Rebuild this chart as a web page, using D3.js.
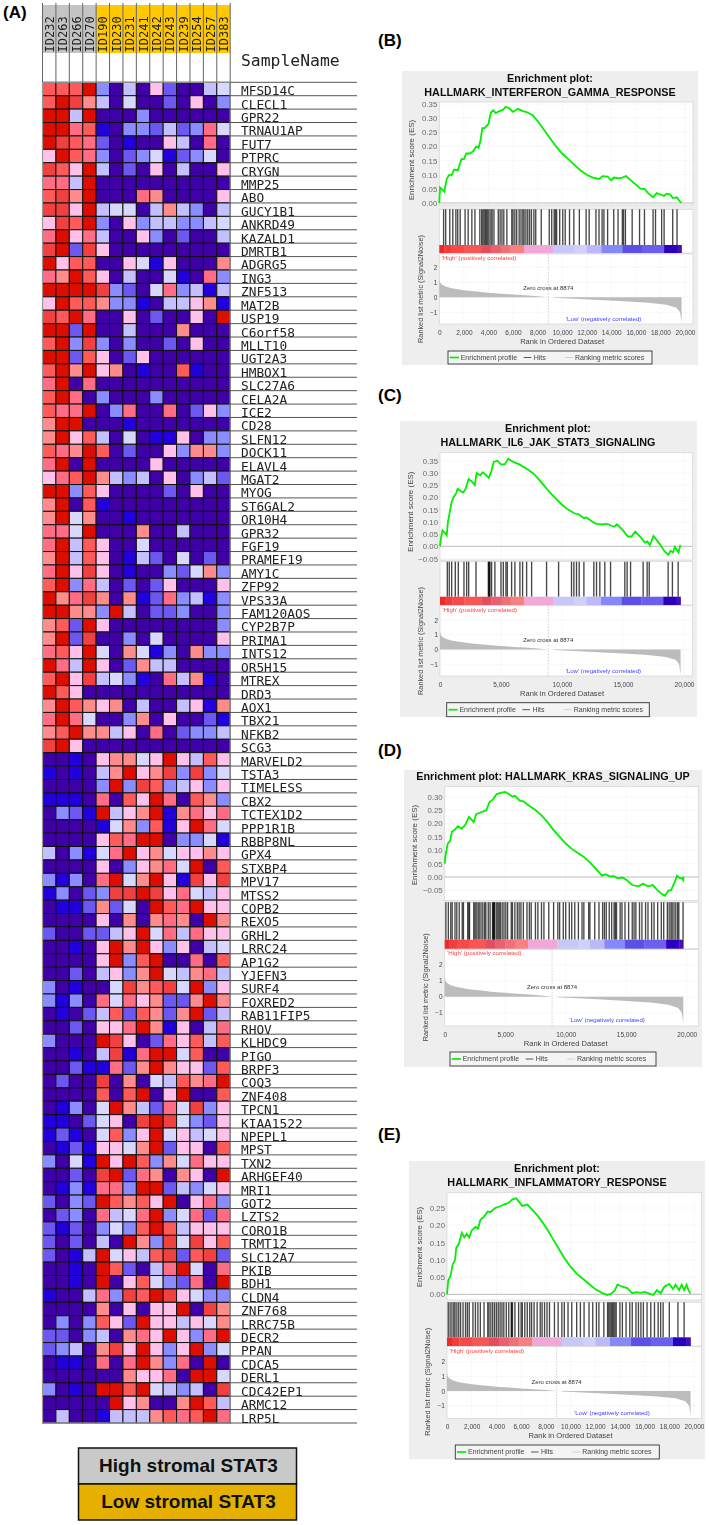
<!DOCTYPE html>
<html>
<head>
	<meta charset="utf-8">
	<script src="https://cdn.jsdelivr.net/npm/d3@7"></script>
	<style>
		html, body {
			padding: 0;
			margin: 0;
			background: white;
		}
		svg { display: block; }
		text { font-family: "Liberation Sans", Arial, sans-serif; }
		.mono { font-family: "DejaVu Sans Mono", monospace; }
	</style>
</head>
<body>
	<div id="chart"></div>

	<script>
		var samples = ["ID232","ID263","ID266","ID270","ID190","ID230","ID231","ID241","ID242","ID243","ID239","ID254","ID257","ID383"];
		var sampleGroup = ["high","high","high","high","low","low","low","low","low","low","low","low","low","low"];

		var genes = ["MFSD14C","CLECL1","GPR22","TRNAU1AP","FUT7","PTPRC","CRYGN","MMP25","ABO","GUCY1B1","ANKRD49","KAZALD1",
			"DMRTB1","ADGRG5","ING3","ZNF513","MAT2B","USP19","C6orf58","MLLT10","UGT2A3","HMBOX1","SLC27A6","CELA2A","ICE2","CD28","SLFN12","DOCK11","ELAVL4","MGAT2",
			"MYOG","ST6GAL2","OR10H4","GPR32","FGF19","PRAMEF19","AMY1C","ZFP92","VPS33A","FAM120AOS","CYP2B7P","PRIMA1","INTS12","OR5H15","MTREX","DRD3","AOX1","TBX21",
			"NFKB2","SCG3","MARVELD2","TSTA3","TIMELESS","CBX2","TCTEX1D2","PPP1R1B","RBBP8NL","GPX4","STXBP4","MPV17","MTSS2","COPB2","REXO5","GRHL2","LRRC24","AP1G2",
			"YJEFN3","SURF4","FOXRED2","RAB11FIP5","RHOV","KLHDC9","PIGO","BRPF3","COQ3","ZNF408","TPCN1","KIAA1522","NPEPL1","MPST","TXN2","ARHGEF40","MRI1","GOT2",
			"LZTS2","CORO1B","TRMT12","SLC12A7","PKIB","BDH1","CLDN4","ZNF768","LRRC75B","DECR2","PPAN","CDCA5","DERL1","CDC42EP1","ARMC12","LRP5L"];

		// one string per gene, one level code per sample (0 = lowest, b = highest)
		var heatLevels = [
			"999b3040620045","9ba74050020603","bb4b0003000000","bb891033242385","ba982010064080","6b983023512350",
			"a96b4020604006","884b0000000000","9a7b0008700006","aa6b4550474304","6a9b3063443345","8b684006302004",
			"ab2a6000000000","b6990065160007","87b96040051083","bbbba320583414","6b997331044671","a9b8006020060b",
			"bb2b0040007000","9b3a3030020600","bb296026000000","9b7b6701009100","8b080000000000","9b803000300000",
			"988b0380080263","7bb00010000000","7b694050116033","987b9020063773","8b0b0000600000","689b7434060342",
			"bb396000020600","7b091000000000","7b570010000000","885b0007004000","8b496005000000","7b496014205020",
			"8b6a6010032573","9b384020260006","b78a7071283413","bb773b40223003","792b6000000003","7b2a0030500006",
			"896b5075130733","b84b6027440000","9b6a4531084710","b9600000000000","7b976704004617","8b850037060021",
			"79b77460802334","ab600000000000","001067756b6496","101047b67a3a35","00003b3a934636","11108096b80973",
			"0321b467b17868","00001573916b85","0000698bb03351","403158b6756676","00006036785b09","31308b57b61a6a",
			"13023aaba68546","01127250b98b66","000060707870b7","2002246b584866","00106b7b636045","00006b39b00809",
			"00204637b54784","301005a79a5b36","313085867227b7","01024929727b24","0020668b716048","3000ba60286949",
			"00104a18bb5900","00211827b76629","0200a07054978b","0000909b06b009","01305b74285a36","1102560aba5326",
			"12105936b56456","01216657b26609","3051b6b9375866","0020ab2870760b","0131883bb24356","2032b9796b0683",
			"02308458b35828","21203539b94666","202040b73a5a69","2014b5649a29a2","0010b92048b508","0010b06953280b",
			"100483a9ba6533","0000706066b0a7","0303962b664657","220340786b638b","23407a6b636b35","0110808b7380b0",
			"00000076680bb5","3010bb9b54340a","00000b67007b94","040014447989b8"
		];
		var levelColors = ["#3f00a8","#2200dd","#6c58f0","#8a8cff","#c4c0ff","#d8d8ff","#ffc0ea","#ff8c8c","#ff6c84","#ff5a5a","#f04040","#dd0a00"];
		var levelCodes = ["0","1","2","3","4","5","6","7","8","9","a","b"];

		var groupColors = {high: "#c4c4c4", low: "#ffc800"};

		var legendLabels = ["High stromal STAT3", "Low stromal STAT3"];
		var legendColors = ["#c9c9c9", "#e6b000"];

		// enrichment curves [rank, ES]
		var esB = [[0,0],[60,.055],[300,.045],[400,.04],[600,.085],[800,.1],[1000,.098],[1200,.118],[1500,.115],[1800,.155],[2000,.155],[2200,.175],[2500,.175],[2800,.185],[3000,.2],[3200,.195],[3350,.22],[3500,.265],[3700,.265],[4000,.28],[4200,.32],[4400,.328],[4600,.318],[4900,.325],[5200,.33],[5400,.34],[5700,.335],[6000,.322],[6400,.333],[6800,.325],[7200,.32],[7600,.31],[8000,.29],[8500,.26],[9000,.23],[9500,.2],[10000,.175],[10500,.155],[11000,.135],[11500,.115],[12000,.1],[12500,.09],[13000,.085],[13300,.095],[13700,.093],[14000,.08],[14200,.09],[14600,.087],[14900,.09],[15200,.095],[15600,.08],[16000,.065],[16400,.05],[16700,.05],[17000,.035],[17400,.02],[17700,.035],[18000,.03],[18300,.025],[18500,.033],[18800,.03],[19000,.018],[19200,.018],[19350,.02],[19500,.01],[19720,0]];
		var esC = [[0,0],[70,.03],[200,.065],[400,.055],[550,.045],[650,.1],[800,.14],[950,.18],[1100,.2],[1300,.215],[1450,.235],[1700,.225],[1900,.22],[2100,.235],[2350,.275],[2600,.265],[2850,.25],[3000,.3],[3300,.29],[3500,.303],[3800,.29],[4000,.28],[4200,.305],[4400,.345],[4700,.35],[5000,.335],[5300,.335],[5600,.358],[6000,.345],[6500,.335],[7000,.32],[7600,.3],[8000,.28],[8500,.25],[9000,.22],[9500,.195],[10000,.17],[10500,.15],[11000,.135],[11400,.13],[11800,.115],[12000,.118],[12500,.1],[12800,.092],[13300,.09],[13700,.092],[14000,.085],[14300,.08],[14500,.09],[15000,.065],[15400,.04],[15700,.04],[16000,.06],[16400,.04],[16800,.015],[17000,.02],[17200,.005],[17500,.042],[18000,.01],[18400,-.02],[18700,-.035],[18900,-.018],[19100,-.025],[19250,-.002],[19550,-.025],[19700,.005]];
		var esD = [[0,.05],[50,.075],[150,.1],[250,.125],[450,.135],[600,.17],[800,.175],[1100,.19],[1400,.18],[1700,.195],[2000,.225],[2200,.215],[2400,.205],[2600,.235],[2900,.24],[3200,.245],[3450,.25],[3700,.28],[4000,.29],[4300,.31],[4700,.315],[5000,.318],[5300,.31],[5600,.3],[5800,.303],[6200,.285],[6500,.283],[7000,.265],[7500,.25],[8000,.23],[8500,.205],[9000,.175],[9500,.15],[10000,.125],[10500,.105],[11000,.09],[11500,.075],[12000,.055],[12500,.03],[13000,.005],[13300,.01],[13700,.002],[14000,.003],[14300,-.005],[14700,-.002],[15000,-.01],[15500,-.03],[16000,-.035],[16400,-.025],[16800,-.035],[17200,-.03],[17600,-.05],[18000,-.065],[18200,-.07],[18500,-.05],[18700,-.05],[19000,-.02],[19200,.005],[19400,-.003],[19600,-.005],[19720,-.012],[19730,.002]];
		var esE = [[0,0],[100,.04],[300,.055],[450,.085],[650,.1],[750,.135],[950,.145],[1200,.178],[1400,.165],[1600,.175],[1800,.165],[2000,.185],[2300,.195],[2500,.19],[2700,.215],[3000,.225],[3300,.24],[3500,.238],[3900,.25],[4300,.255],[4600,.26],[5000,.265],[5300,.275],[5600,.278],[5900,.265],[6100,.256],[6500,.26],[6900,.245],[7400,.225],[8000,.195],[8500,.165],[9000,.135],[9500,.105],[10000,.08],[10500,.06],[11000,.045],[11500,.03],[12000,.015],[12500,.005],[13000,-.002],[13300,.002],[13600,.012],[13800,.028],[14200,.022],[14600,.018],[15000,.003],[15300,.006],[15700,.004],[16000,.007],[16400,.002],[16700,-.002],[17000,.012],[17300,.003],[17600,.022],[18000,.03],[18300,.015],[18500,.028],[18800,.012],[19000,.028],[19200,.012],[19400,.028],[19550,.012],[19720,.002]];

		// gene set hit ranks
		var hitsB = [350,520,850,1100,1350,1500,1700,2100,2350,2650,2900,3300,3450,3550,3650,3750,3850,3950,4050,4200,4300,4450,4800,4950,5100,5250,5500,5900,6000,6150,6300,6500,6650,6800,6900,7050,7200,7350,7500,7700,7850,8300,8950,9150,9350,9450,9550,9800,10050,10250,10600,10950,11400,11950,12200,12750,13000,13250,13400,13700,14200,14550,14900,15000,15150,15700,16300,16700,17400,17600,18100,18300,19000,19350];
		var hitsC = [600,760,955,1255,1500,1965,2185,2350,2950,3960,4000,4050,4095,4230,4500,5000,5190,5405,5515,5870,6140,6550,6770,7100,7510,8735,9720,10780,10975,11190,11410,11795,12610,12830,13100,13510,13980,15150,15340,15620,16650,16980,17150,18700,19050,19520];
		var hitsD = [100,300,500,620,850,1000,1200,1450,1550,1900,2000,2050,2400,2500,2600,2750,2850,3000,3150,3300,3400,3600,3750,3950,4000,4050,4100,4150,4300,4400,4500,4600,4750,4900,5050,5200,5500,5600,5800,6000,6150,6300,6500,6800,7000,7150,7500,7700,8000,8200,8600,9000,9350,9500,9800,10000,10300,10500,10750,11050,11350,11500,11900,12000,12400,12750,13050,13200,13350,13600,13800,14000,14100,14200,14500,14650,14900,15200,15500,15650,15800,16100,16300,16600,16800,17100,17300,17600,17900,18100,18400,18550,18700,18800,18950,19100,19250,19350,19700];
		var hitsE = [100,250,400,550,650,800,950,1100,1300,1500,1650,1800,2100,2300,2500,2700,3000,3300,3400,3550,3700,3850,4000,4150,4300,4450,4600,4800,5000,5200,5250,5300,5500,5800,6000,6100,6300,6500,6700,6850,7050,7300,7550,7700,7900,8100,8300,8700,9000,9300,9500,9800,10100,10500,10800,11100,11500,11800,12100,12300,12700,13000,13100,13200,13300,13400,13500,13600,13700,14000,14200,14500,14800,15000,15300,15500,15700,15900,16200,16500,16800,17100,17300,17500,18000,18700,19200];

		// ranked list metric, the same in every panel
		var metricHigh = [[0,1.3],[50,1],[200,.85],[500,.72],[1000,.6],[2000,.47],[3000,.38],[4000,.3],[5000,.24],[6000,.18],[7000,.13],[8000,.07],[8874,0]];
		var metricLow = [[9300,-.03],[11000,-.1],[13000,-.18],[15000,-.27],[17000,-.37],[18500,-.5],[19300,-.7],[19600,-1],[19720,-1.7]];

		var bandEnds = [400,1000,2000,3400,4200,5000,5800,6900,9300,11000,12000,13200,14900,16500,18300,19400,19720];
		var bandColors = ["#ee2a2a","#f23c3c","#f64a4a","#f85555","#e05060","#e96070","#f07078","#f88080","#f0a8d8","#c8c8f8","#d0d0f8","#bcb8fa","#8488f8","#5c50e8","#6a60ec","#2a00c0","#4a10b0"];

		var esTicksB = [0,.05,.1,.15,.2,.25,.3,.35];
		var esTicksC = [-.05,0,.05,.1,.15,.2,.25,.3,.35];
		var esTicksD = [-.05,0,.05,.1,.15,.2,.25,.3];
		var esTicksE = [0,.05,.1,.15,.2,.25];
		var rankTicks2k = d3.range(0, 20001, 2000);
		var rankTicks5k = d3.range(0, 20001, 5000);
		var metricTicks = [-1,0,1,2];

		var width = 709, height = 1525;

		var svg = d3.select("#chart").append("svg")
			.attr("width", width)
			.attr("height", height)
			.style("background", "white");

		var defs = svg.append("defs");
		defs.append("filter").attr("id", "soft").attr("x", "-2%").attr("y", "-2%").attr("width", "104%").attr("height", "104%")
			.append("feGaussianBlur").attr("stdDeviation", 0.35);
		defs.append("filter").attr("id", "softer").attr("x", "-2%").attr("y", "-2%").attr("width", "104%").attr("height", "104%")
			.append("feGaussianBlur").attr("stdDeviation", 0.25);

		// panel letters
		var letters = [["(A)",3,18],["(B)",378,46],["(C)",378,401],["(D)",378,756],["(E)",378,1140]];
		svg.selectAll("text.letter").data(letters).enter().append("text")
			.attr("class", "letter")
			.attr("x", function(d) { return d[1]; })
			.attr("y", function(d) { return d[2]; })
			.style("font-size", "17px").style("font-weight", "bold")
			.text(function(d) { return d[0]; });

		drawHeatmap();
		drawKey();

		function drawHeatmap() {
			var g = svg.append("g").attr("filter", "url(#softer)");
			var color = d3.scaleOrdinal().domain(levelCodes).range(levelColors);
			var x = d3.scaleBand().domain(samples).range([42.5, 230.2]);
			var y = d3.scaleBand().domain(genes).range([82.3, 1423]);

			g.selectAll("rect.group").data(samples).enter().append("rect")
				.attr("class", "group")
				.attr("x", function(d) { return x(d); })
				.attr("y", 5)
				.attr("width", x.bandwidth())
				.attr("height", 48)
				.attr("fill", function(d, i) { return groupColors[sampleGroup[i]]; });

			g.selectAll("line.col").data(samples.concat(["end"])).enter().append("line")
				.attr("class", "col")
				.attr("x1", function(d, i) { return 42.5 + i * x.bandwidth(); })
				.attr("x2", function(d, i) { return 42.5 + i * x.bandwidth(); })
				.attr("y1", 3).attr("y2", 82)
				.attr("stroke", "#666").attr("stroke-width", 1);

			g.selectAll("text.sample").data(samples).enter().append("text")
				.attr("class", "sample mono")
				.attr("transform", function(d) { return "translate(" + (x(d) + x.bandwidth() / 2 + 4.5) + ",52.5) rotate(-90)"; })
				.style("font-size", "12px")
				.attr("fill", "#222")
				.text(function(d) { return d; });

			genes.forEach(function(gene, r) {
				var codes = heatLevels[r].split("");
				samples.forEach(function(s, c) {
					g.append("rect")
						.attr("x", x(s)).attr("y", y(gene))
						.attr("width", x.bandwidth()).attr("height", y.bandwidth())
						.attr("fill", color(codes[c]))
						.attr("stroke", "#111").attr("stroke-width", 1);
				});
			});

			g.append("rect")
				.attr("x", 42.5).attr("y", 82.3).attr("width", 187.7).attr("height", 1340.7)
				.attr("fill", "none").attr("stroke", "#999").attr("stroke-width", 1.2);

			var rows = g.selectAll("g.row").data(genes).enter().append("g").attr("class", "row");

			rows.append("line")
				.attr("x1", 230).attr("x2", 357)
				.attr("y1", function(d) { return y(d) + y.bandwidth(); })
				.attr("y2", function(d) { return y(d) + y.bandwidth(); })
				.attr("stroke", "#555").attr("stroke-width", 1);

			g.append("line").attr("x1", 230).attr("x2", 357).attr("y1", 82.3).attr("y2", 82.3)
				.attr("stroke", "#555").attr("stroke-width", 1);

			rows.append("text")
				.attr("class", "mono")
				.attr("x", 241)
				.attr("y", function(d) { return y(d) + y.bandwidth() - 0.5; })
				.style("font-size", "12.8px")
				.attr("fill", "#222")
				.text(function(d) { return d; });

			g.append("text").attr("class", "mono")
				.attr("x", 241).attr("y", 66)
				.style("font-size", "16.4px").attr("fill", "#222")
				.text("SampleName");
		}

		function drawKey() {
			var y = d3.scaleBand().domain(legendLabels).range([1448, 1520]);
			var g = svg.append("g");
			g.selectAll("rect").data(legendLabels).enter().append("rect")
				.attr("x", 78.5).attr("y", function(d) { return y(d); })
				.attr("width", 218).attr("height", y.bandwidth())
				.attr("fill", function(d, i) { return legendColors[i]; })
				.attr("stroke", "#111").attr("stroke-width", 1.5);
			g.selectAll("text").data(legendLabels).enter().append("text")
				.attr("x", 188.5).attr("y", function(d) { return y(d) + y.bandwidth() / 2 + 6; })
				.attr("text-anchor", "middle")
				.style("font-size", "19px").style("font-weight", "bold")
				.attr("fill", "#111")
				.text(function(d) { return d; });
		}

		var panels = [
			{title: ["Enrichment plot:", "HALLMARK_INTERFERON_GAMMA_RESPONSE"], es: esB, hits: hitsB, esTicks: esTicksB, rankTicks: rankTicks2k,
				bg: [402,71,698,365], left: 439.3, right: 693, x20k: 685, esBox: [102,205], esAnchor: [0,203,.35,104],
				hitTop: 209.3, bandTop: 245, bandBottom: 253, metricBox: [254,324], metricAnchor: [2,267.3,-1,312.3],
				tickY: 334.5, labelY: 344, legend: [448,351,652,364], titleY: [81.5,95.5], titleX: 550, esLabel: [414,160], metricLabel: [423,289]},
			{title: ["Enrichment plot:", "HALLMARK_IL6_JAK_STAT3_SIGNALING"], es: esC, hits: hitsC, esTicks: esTicksC, rankTicks: rankTicks5k,
				bg: [400,421,697,717], left: 440, right: 692.3, x20k: 684, esBox: [452.7,560], esAnchor: [0,546.3,.35,460.7],
				hitTop: 561.7, bandTop: 596.7, bandBottom: 605, metricBox: [605.7,676], metricAnchor: [2,620,-1,664.3],
				tickY: 686.5, labelY: 696, legend: [446.7,702.7,649.3,716.7], titleY: [432.3,446], titleX: 548, esLabel: [413,511.7], metricLabel: [423.3,641]},
			{title: ["Enrichment plot: HALLMARK_KRAS_SIGNALING_UP"], es: esD, hits: hitsD, esTicks: esTicksD, rankTicks: rankTicks5k,
				bg: [404,770,702,1067], left: 444.7, right: 698.3, x20k: 686.7, esBox: [786.7,900.7], esAnchor: [0,877,.3,796.7],
				hitTop: 902.3, bandTop: 939.7, bandBottom: 948.7, metricBox: [949.7,1026], metricAnchor: [2,964.7,-1,1012.7],
				tickY: 1036, labelY: 1046, legend: [450,1052,656,1066], titleY: [780], titleX: 553, esLabel: [417,845], metricLabel: [428.3,987.3]},
			{title: ["Enrichment plot:", "HALLMARK_INFLAMMATORY_RESPONSE"], es: esE, hits: hitsE, esTicks: esTicksE, rankTicks: rankTicks2k,
				bg: [409,1161,705,1459.3], left: 447, right: 701.7, x20k: 694, esBox: [1192.7,1300], esAnchor: [0,1294.3,.25,1208],
				hitTop: 1302.3, bandTop: 1337.3, bandBottom: 1346, metricBox: [1346.7,1418.3], metricAnchor: [2,1361.7,-1,1405.7],
				tickY: 1428.5, labelY: 1438, legend: [455.3,1445,659.3,1459], titleY: [1172.3,1186], titleX: 557, esLabel: [421.5,1247], metricLabel: [430,1381.7]}
		];

		panels.forEach(drawPanel);

		function styleAxis(ax, size, color) {
			ax.select(".domain").remove();
			ax.selectAll("line").remove();
			ax.selectAll("text").style("font-size", size + "px").attr("fill", color);
		}

		function drawPanel(p) {
			var g = svg.append("g").attr("filter", "url(#soft)");

			g.append("rect")
				.attr("x", p.bg[0]).attr("y", p.bg[1])
				.attr("width", p.bg[2] - p.bg[0]).attr("height", p.bg[3] - p.bg[1])
				.attr("fill", "#eeeeee");

			g.selectAll("text.title").data(p.title).enter().append("text")
				.attr("class", "title")
				.attr("x", p.titleX)
				.attr("y", function(d, i) { return p.titleY[i]; })
				.attr("text-anchor", "middle")
				.style("font-size", "10.8px").style("font-weight", "bold")
				.attr("fill", "#111")
				.text(function(d) { return d; });

			var x = d3.scaleLinear().domain([0, 20000]).range([p.left, p.x20k]);
			var yEs = d3.scaleLinear().domain([p.esAnchor[0], p.esAnchor[2]]).range([p.esAnchor[1], p.esAnchor[3]]);
			var yMetric = d3.scaleLinear().domain([p.metricAnchor[0], p.metricAnchor[2]]).range([p.metricAnchor[1], p.metricAnchor[3]]);

			// three stacked plot boxes
			[[p.esBox[0], p.esBox[1]], [p.hitTop, p.bandBottom], [p.metricBox[0], p.metricBox[1]]].forEach(function(b) {
				g.append("rect")
					.attr("x", p.left).attr("y", b[0])
					.attr("width", p.right - p.left).attr("height", b[1] - b[0])
					.attr("fill", "white").attr("stroke", "#d4d4d4").attr("stroke-width", 0.7);
			});

			// grid
			g.append("g").selectAll("line").data(p.rankTicks.slice(1)).enter().append("line")
				.attr("x1", function(d) { return x(d); }).attr("x2", function(d) { return x(d); })
				.attr("y1", p.esBox[0]).attr("y2", p.esBox[1])
				.attr("stroke", "#e8e8e8").attr("stroke-width", 0.6).attr("stroke-dasharray", "1,1");
			g.append("g").selectAll("line").data(p.rankTicks.slice(1)).enter().append("line")
				.attr("x1", function(d) { return x(d); }).attr("x2", function(d) { return x(d); })
				.attr("y1", p.metricBox[0]).attr("y2", p.metricBox[1])
				.attr("stroke", "#e8e8e8").attr("stroke-width", 0.6).attr("stroke-dasharray", "1,1");
			g.append("g").selectAll("line").data(p.esTicks).enter().append("line")
				.attr("x1", p.left).attr("x2", p.right)
				.attr("y1", function(d) { return yEs(d); }).attr("y2", function(d) { return yEs(d); })
				.attr("stroke", function(d) { return d === 0 ? "#bbb" : "#e8e8e8"; })
				.attr("stroke-width", function(d) { return d === 0 ? 1 : 0.6; })
				.attr("stroke-dasharray", function(d) { return d === 0 ? null : "1,1"; });
			g.append("g").selectAll("line").data(metricTicks).enter().append("line")
				.attr("x1", p.left).attr("x2", p.right)
				.attr("y1", function(d) { return yMetric(d); }).attr("y2", function(d) { return yMetric(d); })
				.attr("stroke", "#e8e8e8").attr("stroke-width", 0.6).attr("stroke-dasharray", "1,1");

			// ES curve
			var line = d3.line()
				.x(function(d) { return x(d[0]); })
				.y(function(d) { return yEs(d[1]); });
			g.append("path").datum(p.es)
				.attr("d", line)
				.attr("fill", "none").attr("stroke", "#00f000").attr("stroke-width", 1.8);

			// hits
			g.append("g").selectAll("line").data(p.hits).enter().append("line")
				.attr("x1", function(d) { return x(d); }).attr("x2", function(d) { return x(d); })
				.attr("y1", p.hitTop).attr("y2", p.bandTop)
				.attr("stroke", "#000").attr("stroke-width", 1.35).attr("stroke-opacity", 0.72);

			// colour band
			g.append("g").selectAll("rect").data(bandEnds).enter().append("rect")
				.attr("x", function(d, i) { return x(i ? bandEnds[i - 1] : 0); })
				.attr("width", function(d, i) { return x(d) - x(i ? bandEnds[i - 1] : 0) + 0.3; })
				.attr("y", p.bandTop).attr("height", p.bandBottom - p.bandTop)
				.attr("fill", function(d, i) { return bandColors[i]; });

			// ranked metric
			var area = d3.area()
				.x(function(d) { return x(d[0]); })
				.y0(yMetric(0))
				.y1(function(d) { return yMetric(d[1]); });
			g.append("path").datum(metricHigh).attr("d", area).attr("fill", "#bcbcbc");
			g.append("path").datum(metricLow).attr("d", area).attr("fill", "#bcbcbc");

			g.append("line")
				.attr("x1", x(8874)).attr("x2", x(8874))
				.attr("y1", p.metricBox[0]).attr("y2", p.metricBox[1])
				.attr("stroke", "#bbb").attr("stroke-width", 0.7).attr("stroke-dasharray", "1.5,1.5");

			g.append("text")
				.attr("x", x(8874)).attr("y", yMetric(0.5))
				.attr("text-anchor", "middle")
				.style("font-size", "6px").attr("fill", "#333")
				.text("Zero cross at 8874");
			g.append("text")
				.attr("x", p.left + 2.5).attr("y", p.bandBottom + 6.5)
				.style("font-size", "6.1px").attr("fill", "#ff3c3c")
				.text("'High' (positively correlated)");
			g.append("text")
				.attr("x", x(10300)).attr("y", yMetric(-1.6))
				.style("font-size", "6.1px").attr("fill", "#4040ff")
				.text("'Low' (negatively correlated)");

			// axes
			var axEs = g.append("g").attr("transform", "translate(" + (p.left + 1) + ",0)")
				.call(d3.axisLeft(yEs).tickValues(p.esTicks).tickFormat(d3.format(".2f")).tickSize(0));
			styleAxis(axEs, 7.8, "#6a6a6a");
			var axMetric = g.append("g").attr("transform", "translate(" + (p.left + 1) + ",0)")
				.call(d3.axisLeft(yMetric).tickValues(metricTicks).tickFormat(d3.format("d")).tickSize(0));
			styleAxis(axMetric, 6.5, "#444");
			var axRank = g.append("g").attr("transform", "translate(0," + (p.tickY - 7) + ")")
				.call(d3.axisBottom(x).tickValues(p.rankTicks).tickFormat(d3.format(",")).tickSize(0));
			styleAxis(axRank, 6.5, "#444");

			g.append("text")
				.attr("x", (p.left + p.x20k) / 2).attr("y", p.labelY)
				.attr("text-anchor", "middle")
				.style("font-size", "7.6px").attr("fill", "#444")
				.text("Rank in Ordered Dataset");
			g.append("text")
				.attr("transform", "translate(" + p.esLabel[0] + "," + p.esLabel[1] + ") rotate(-90)")
				.attr("text-anchor", "middle")
				.style("font-size", "8px").attr("fill", "#444")
				.text("Enrichment score (ES)");
			g.append("text")
				.attr("transform", "translate(" + p.metricLabel[0] + "," + p.metricLabel[1] + ") rotate(-90)")
				.attr("text-anchor", "middle")
				.style("font-size", "7.3px").attr("fill", "#444")
				.text("Ranked list metric (Signal2Noise)");

			// legend
			var l = p.legend, my = (l[1] + l[3]) / 2;
			g.append("rect")
				.attr("x", l[0]).attr("y", l[1]).attr("width", l[2] - l[0]).attr("height", l[3] - l[1])
				.attr("fill", "#f4f4f4").attr("stroke", "#333").attr("stroke-width", 0.9);
			var items = [["Enrichment profile", 1.7, 11, 12.7, "#00f000", 1.7], ["Hits", 75.7, 83.3, 85.7, "#444", 0.9], ["Ranking metric scores", 117, 125, 127, "#ccc", 0.9]];
			items.forEach(function(d) {
				g.append("line")
					.attr("x1", l[0] + d[1]).attr("x2", l[0] + d[2]).attr("y1", my).attr("y2", my)
					.attr("stroke", d[4]).attr("stroke-width", d[5]);
				g.append("text")
					.attr("x", l[0] + d[3]).attr("y", my + 2.4)
					.style("font-size", "7px").attr("fill", "#444")
					.text(d[0]);
			});
		}
	</script>
</body>
</html>
